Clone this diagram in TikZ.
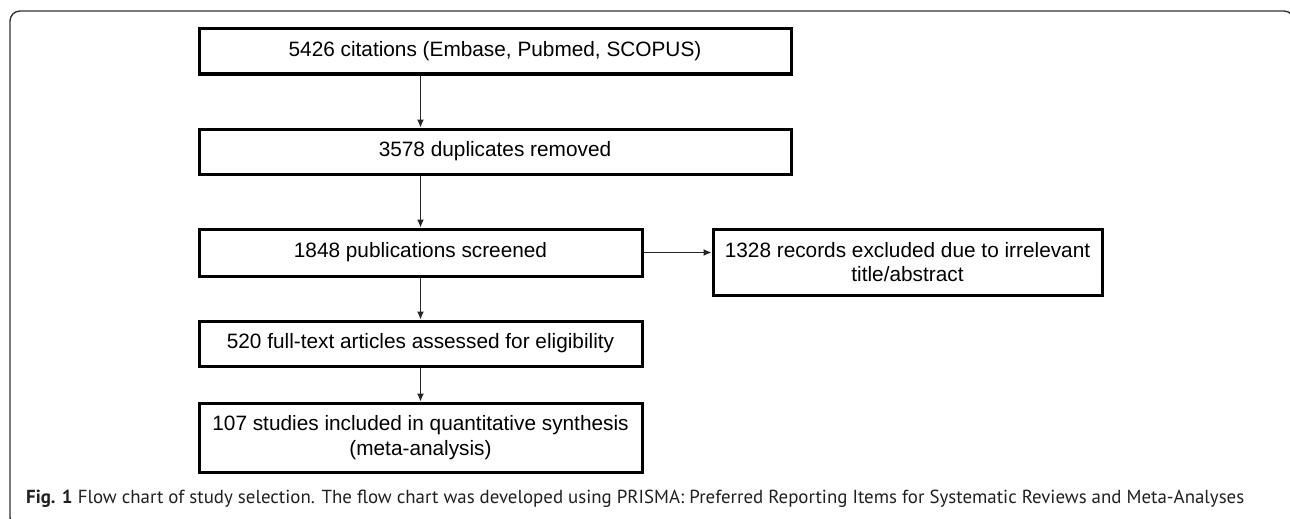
\documentclass[tikz,border=0pt]{standalone}
\usepackage{fontspec}
\setmainfont{Liberation Sans}
\newfontfamily\capfont{PT Sans}
\usetikzlibrary{arrows.meta,calc}
\definecolor{captxt}{HTML}{231F20}
\tikzset{
  box/.style={draw=black, line width=3pt, fill=white, align=center, inner sep=0pt,
     font=\fontsize{20.8}{23.5}\selectfont},
  arr/.style={draw=black!85, line width=1pt, -{Latex[length=8pt,width=7pt]}},
  frame/.style={draw=black!80, line width=1.4pt, rounded corners=10pt}
}
\begin{document}
\begin{tikzpicture}[x=1pt,y=-1pt]
\useasboundingbox (0,0) rectangle (1290,519);
\begin{scope}
\clip (0,0) rectangle (1290,519);
\draw[frame] (10,11) rectangle (1294,527);
\end{scope}
\node[box, minimum width=592pt, minimum height=45pt] (b1) at (495,51.5) {5426 citations (Embase, Pubmed, SCOPUS)};
\node[box, minimum width=592pt, minimum height=45pt] (b2) at (495,151.5) {3578 duplicates removed};
\node[box, minimum width=443pt, minimum height=47pt] (b3) at (420.5,252.5) {1848 publications screened};
\node[box, minimum width=389pt, minimum height=66pt] (b4) at (907.5,262) {1328 records excluded due to irrelevant\\title/abstract};
\node[box, minimum width=443pt, minimum height=45pt] (b5) at (420.5,343.5) {520 full-text articles assessed for eligibility};
\node[box, minimum width=443pt, minimum height=69pt, font=\fontsize{20.8}{25}\selectfont] (b6) at (420.5,437.5) {107 studies included in quantitative synthesis\\(meta-analysis)};
\draw[arr] (b3.north |- b1.south) -- (b3.north |- b2.north);
\draw[arr] (b3.north |- b2.south) -- (b3.north);
\draw[arr] (b3.south) -- (b5.north);
\draw[arr] (b5.south) -- (b6.north);
\draw[arr] (b3.east) -- (b4.west |- b3.east);
\node[anchor=base west, inner sep=0pt, text=captxt] (cap) at (26,503)
  {\resizebox{1218pt}{!}{\capfont\fontsize{19}{22}\selectfont\textbf{Fig. 1} Flow chart of study selection. The flow chart was developed using PRISMA: Preferred Reporting Items for Systematic Reviews and Meta-Analyses}};
\end{tikzpicture}
\end{document}
